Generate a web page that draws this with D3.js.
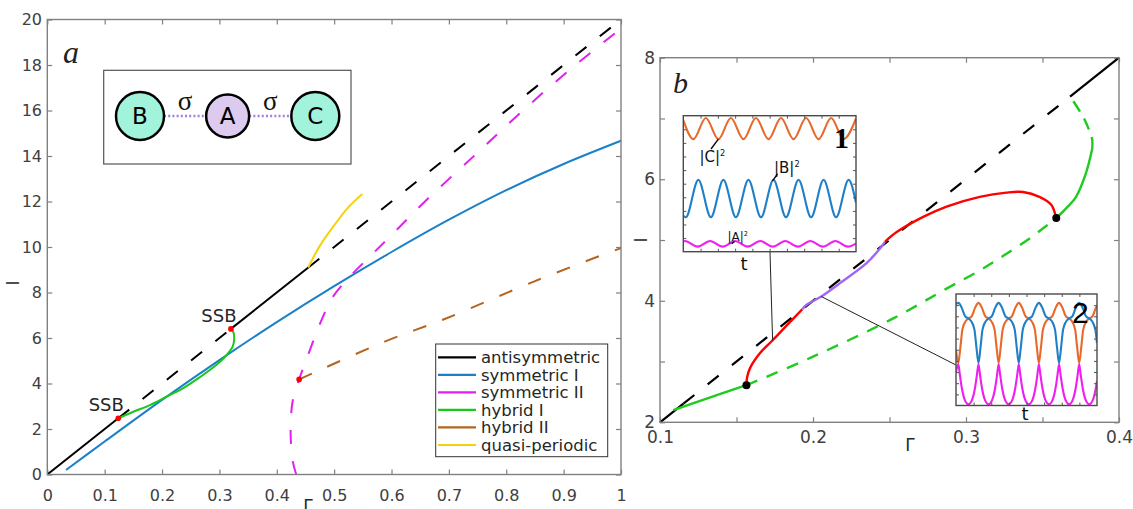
<!DOCTYPE html>
<html lang="en">
<head>
<meta charset="UTF-8">
<title>Bifurcation diagrams</title>
<script src="https://cdn.jsdelivr.net/npm/d3@7"></script>
<style>
  body, html {margin: 0; padding: 0; background: #fff;}
  svg {display: block; font-family: "DejaVu Sans", sans-serif;}
</style>
</head>
<body>
<svg id="fig" width="1133" height="509"></svg>
<script>
// ---------- panel a data (Gamma, I) ----------
const xTicksA = [0, 0.1, 0.2, 0.3, 0.4, 0.5, 0.6, 0.7, 0.8, 0.9, 1];
const xLabelsA = ["0", "0.1", "0.2", "0.3", "0.4", "0.5", "0.6", "0.7", "0.8", "0.9", "1"];
const yTicksA = [0, 2, 4, 6, 8, 10, 12, 14, 16, 18, 20];
const yLabelsA = ["0", "2", "4", "6", "8", "10", "12", "14", "16", "18", "20"];

// antisymmetric: breakpoints, segments alternate solid / dashed
const antiG = [0, 0.1237, 0.32, 0.455, 1];
const antiI = [0, 2.47, 6.4, 9.1, 20];

const symIG = [0.0326, 0.1, 0.2, 0.3, 0.4, 0.5, 0.6, 0.7, 0.8, 0.9, 1];
const symII = [0.2, 1.45, 3.28, 5.03, 6.7, 8.28, 9.78, 11.2, 12.5, 13.65, 14.67];

const symIIG = [0.434, 0.4285, 0.4245, 0.4245, 0.4275, 0.439, 0.4577, 0.478, 0.498, 0.527, 0.565, 0.603, 0.661, 0.748, 0.829, 0.916, 1];
const symIII = [0, 0.5, 1.5, 2.3, 3.2, 4.18, 5.47, 6.79, 7.82, 8.69, 9.65, 10.6, 12.07, 14.1, 16.0, 17.9, 19.6];

const hybIG = [0.1237, 0.150, 0.179, 0.208, 0.237, 0.266, 0.295, 0.3125, 0.323, 0.3258, 0.324, 0.320];
const hybII = [2.47, 2.76, 3.05, 3.42, 3.80, 4.28, 4.82, 5.25, 5.62, 5.99, 6.28, 6.4];

const hybIIG = [0.439, 0.588, 0.696, 0.847, 0.975, 1];
const hybIII = [4.18, 5.84, 6.87, 8.47, 9.72, 9.95];

const quasiG = [0.4548, 0.475, 0.5, 0.525, 0.549];
const quasiI = [9.1, 10.05, 10.95, 11.75, 12.33];

const ssbG = [0.1237, 0.32, 0.439];
const ssbI = [2.47, 6.4, 4.18];

const legendNames = ["antisymmetric", "symmetric I", "symmetric II", "hybrid I", "hybrid II", "quasi-periodic"];
const legendColors = ["#000000", "#1a80c8", "#e020f0", "#19c819", "#b5651d", "#f5d20a"];

const nodes = ["B", "A", "C"];

// ---------- panel b data ----------
const xTicksB = [0.1, 0.15, 0.2, 0.25, 0.3, 0.35, 0.4];
const xLabelsB = ["0.1", "", "0.2", "", "0.3", "", "0.4"];
const yTicksB = [2, 3, 4, 5, 6, 7, 8];
const yLabelsB = ["2", "", "4", "", "6", "", "8"];

const antiBG = [0.1, 0.1153, 0.368, 0.4];
const antiBI = [2, 2.306, 7.36, 8];

const greenSolid1 = [[0.1087, 2.2], [0.1305, 2.39], [0.1565, 2.61]];
const greenDash1 = [[0.1565, 2.61], [0.2, 3.08], [0.2525, 3.71], [0.2873, 4.2], [0.309, 4.5], [0.3244, 4.74], [0.3418, 5.03], [0.359, 5.36]];
const greenSolid2 = [[0.359, 5.36], [0.3654, 5.52], [0.3719, 5.71], [0.3784, 6.10], [0.3825, 6.5]];
const greenDash2 = [[0.3825, 6.5], [0.3825, 6.65], [0.3803, 6.82], [0.3765, 7.03], [0.3689, 7.33]];
const red1 = [[0.1565, 2.61], [0.157, 2.75], [0.159, 2.9], [0.1654, 3.14], [0.1736, 3.35], [0.1827, 3.59], [0.193, 3.86]];
const purple = [[0.193, 3.86], [0.1956, 3.93], [0.2054, 4.07], [0.2176, 4.29], [0.235, 4.62], [0.2438, 4.86], [0.247, 4.97]];
const red2 = [[0.247, 4.97], [0.2547, 5.13], [0.272, 5.38], [0.2873, 5.55], [0.309, 5.71], [0.3264, 5.78], [0.3373, 5.79], [0.348, 5.71], [0.3557, 5.58], [0.3585, 5.41], [0.359, 5.36]];
const dotsB = [[0.1565, 2.61], [0.359, 5.36]];

// inset 1 (t in periods, normalized intensity)
const in1C = [[0,0.968],[0.4,0.828],[0.9,0.983],[1.4,0.828],[1.9,0.983],[2.4,0.828],[2.9,0.983],[3.4,0.828],[3.9,0.983],[4.4,0.828],[4.9,0.983],[5.4,0.828],[5.9,0.983],[6.4,0.828],[6.893,0.98]];
const in1B = [[0,0.265],[0.1,0.253],[0.6,0.528],[1.1,0.253],[1.6,0.528],[2.1,0.253],[2.6,0.528],[3.1,0.253],[3.6,0.528],[4.1,0.253],[4.6,0.528],[5.1,0.253],[5.6,0.528],[6.1,0.253],[6.6,0.528],[6.893,0.36]];
const in1A = [[0,0.075],[0.07,0.079],[0.57,0.037],[1.07,0.079],[1.57,0.037],[2.07,0.079],[2.57,0.037],[3.07,0.079],[3.57,0.037],[4.07,0.079],[4.57,0.037],[5.07,0.079],[5.57,0.037],[6.07,0.079],[6.57,0.037],[6.893,0.06]];

// inset 2
const in2B = [[0,0.91],[0.058,0.92],[0.138,0.88],[0.228,0.80],[0.308,0.78],[0.388,0.75],[0.458,0.68],[0.508,0.52],[0.558,0.38],[0.608,0.52],[0.658,0.68],[0.728,0.75],[0.808,0.78],[0.888,0.80],[0.978,0.88],[1.058,0.92],[1.138,0.88],[1.228,0.80],[1.308,0.78],[1.388,0.75],[1.458,0.68],[1.508,0.52],[1.558,0.38],[1.608,0.52],[1.658,0.68],[1.728,0.75],[1.808,0.78],[1.888,0.80],[1.978,0.88],[2.058,0.92],[2.138,0.88],[2.228,0.80],[2.308,0.78],[2.388,0.75],[2.458,0.68],[2.508,0.52],[2.558,0.38],[2.608,0.52],[2.658,0.68],[2.728,0.75],[2.808,0.78],[2.888,0.80],[2.978,0.88],[3.058,0.92],[3.138,0.88],[3.228,0.80],[3.308,0.78],[3.388,0.75],[3.458,0.68],[3.5,0.56]];
const in2C = [[0,0.50],[0.058,0.38],[0.108,0.52],[0.158,0.68],[0.228,0.75],[0.308,0.78],[0.388,0.80],[0.478,0.88],[0.558,0.92],[0.638,0.88],[0.728,0.80],[0.808,0.78],[0.888,0.75],[0.958,0.68],[1.008,0.52],[1.058,0.38],[1.108,0.52],[1.158,0.68],[1.228,0.75],[1.308,0.78],[1.388,0.80],[1.478,0.88],[1.558,0.92],[1.638,0.88],[1.728,0.80],[1.808,0.78],[1.888,0.75],[1.958,0.68],[2.008,0.52],[2.058,0.38],[2.108,0.52],[2.158,0.68],[2.228,0.75],[2.308,0.78],[2.388,0.80],[2.478,0.88],[2.558,0.92],[2.638,0.88],[2.728,0.80],[2.808,0.78],[2.888,0.75],[2.958,0.68],[3.008,0.52],[3.058,0.38],[3.108,0.52],[3.158,0.68],[3.228,0.75],[3.308,0.78],[3.388,0.80],[3.478,0.88],[3.5,0.89]];
const in2A = [[0,0.30],[0.058,0.37],[0.098,0.27],[0.148,0.15],[0.218,0.05],[0.308,0.01],[0.398,0.05],[0.468,0.15],[0.518,0.27],[0.558,0.37],[0.598,0.27],[0.648,0.15],[0.718,0.05],[0.808,0.01],[0.898,0.05],[0.968,0.15],[1.018,0.27],[1.058,0.37],[1.098,0.27],[1.148,0.15],[1.218,0.05],[1.308,0.01],[1.398,0.05],[1.468,0.15],[1.518,0.27],[1.558,0.37],[1.598,0.27],[1.648,0.15],[1.718,0.05],[1.808,0.01],[1.898,0.05],[1.968,0.15],[2.018,0.27],[2.058,0.37],[2.098,0.27],[2.148,0.15],[2.218,0.05],[2.308,0.01],[2.398,0.05],[2.468,0.15],[2.518,0.27],[2.558,0.37],[2.598,0.27],[2.648,0.15],[2.718,0.05],[2.808,0.01],[2.898,0.05],[2.968,0.15],[3.018,0.27],[3.058,0.37],[3.098,0.27],[3.148,0.15],[3.218,0.05],[3.308,0.01],[3.398,0.05],[3.468,0.15],[3.5,0.22]];

// ---------- helpers ----------
const svg = d3.select("#fig");
const zip = (g, v) => g.map((d, i) => [d, v[i]]);

function drawFrame(g, x, y, o) {
  const [x0, x1] = x.range(), [y0, y1] = y.range();
  const fmt = labels => (d, i) => labels[i];
  g.append("g").attr("transform", `translate(0,${y0})`)
    .call(d3.axisBottom(x).tickValues(o.xt).tickFormat(fmt(o.xl)).tickSizeInner(-5).tickSizeOuter(0).tickPadding(o.padX));
  g.append("g").attr("transform", `translate(0,${y1})`)
    .call(d3.axisTop(x).tickValues(o.xt).tickFormat("").tickSizeInner(-5).tickSizeOuter(0));
  g.append("g").attr("transform", `translate(${x0},0)`)
    .call(d3.axisLeft(y).tickValues(o.yt).tickFormat(fmt(o.yl)).tickSizeInner(-5).tickSizeOuter(0).tickPadding(o.padY));
  g.append("g").attr("transform", `translate(${x1},0)`)
    .call(d3.axisRight(y).tickValues(o.yt).tickFormat("").tickSizeInner(-5).tickSizeOuter(0));
  g.selectAll(".domain").remove();
  g.selectAll(".tick line").attr("stroke", "#808080").attr("stroke-width", 1.2);
  g.selectAll(".tick text").attr("font-size", o.fs).attr("fill", "#404040")
    .attr("font-family", "DejaVu Sans, sans-serif");
}

function box(g, x, y) {
  const [x0, x1] = x.range(), [y0, y1] = y.range();
  g.append("rect").attr("x", x0).attr("y", y1).attr("width", x1 - x0).attr("height", y0 - y1)
    .attr("fill", "none").attr("stroke", "#808080").attr("stroke-width", 1.4);
}

function path(g, line, data, color, w, dash) {
  g.append("path").datum(data).attr("d", line)
    .attr("fill", "none").attr("stroke", color).attr("stroke-width", w)
    .attr("stroke-dasharray", dash || null).attr("stroke-linejoin", "round");
}

// ---------- panel a ----------
const xa = d3.scaleLinear().domain([0, 1]).range([47.3, 621]);
const ya = d3.scaleLinear().domain([0, 20]).range([474.5, 19.5]);
const lineA = d3.line().x(d => xa(d[0])).y(d => ya(d[1])).curve(d3.curveCatmullRom.alpha(0.5));
const ga = svg.append("g");
drawFrame(ga, xa, ya, {xt: xTicksA, xl: xLabelsA, yt: yTicksA, yl: yLabelsA, fs: 16, padX: 15.5, padY: 5.3});

const dashA = "14,17";
for (let i = 0; i < antiG.length - 1; i++) {
  path(ga, lineA, [[antiG[i], antiI[i]], [antiG[i + 1], antiI[i + 1]]], legendColors[0], 2, i % 2 ? dashA : null);
}
path(ga, lineA, zip(symIG, symII), legendColors[1], 2);
path(ga, lineA, zip(symIIG, symIII), legendColors[2], 2, dashA);
path(ga, lineA, zip(hybIG, hybII), legendColors[3], 2);
path(ga, lineA, zip(hybIIG, hybIII), legendColors[4], 2, dashA);
path(ga, lineA, zip(quasiG, quasiI), legendColors[5], 2);

ga.selectAll("circle.ssb").data(zip(ssbG, ssbI)).join("circle").attr("class", "ssb")
  .attr("cx", d => xa(d[0])).attr("cy", d => ya(d[1])).attr("r", 2.8).attr("fill", "#ff0000");

ga.selectAll("text.ssbl").data(zip(ssbG, ssbI).slice(0, 2)).join("text").attr("class", "ssbl")
  .attr("x", d => xa(d[0]) - 12).attr("y", d => ya(d[1]) - 7)
  .attr("text-anchor", "middle").attr("font-size", 18).attr("fill", "#262626").text("SSB");

box(ga, xa, ya);

// schematic inset
ga.append("rect").attr("x", 103.7).attr("y", 70.3).attr("width", 247.3).attr("height", 93.7)
  .attr("fill", "#fff").attr("stroke", "#555").attr("stroke-width", 1.2);
const nx = d3.scalePoint().domain(nodes).range([140, 315.3]);
const nr = {B: 24, A: 21.5, C: 24};
const nfill = {B: "#a2f3dc", A: "#dccbef", C: "#a2f3dc"};
const cyN = 116;
[["B", "A"], ["A", "C"]].forEach(([p, q]) => {
  ga.append("line").attr("x1", nx(p) + nr[p]).attr("x2", nx(q) - nr[q]).attr("y1", cyN).attr("y2", cyN)
    .attr("stroke", "#a27fdc").attr("stroke-width", 2.6).attr("stroke-dasharray", "2,2.2");
  ga.append("text").attr("x", (nx(p) + nr[p] + nx(q) - nr[q]) / 2).attr("y", 110)
    .attr("text-anchor", "middle").attr("font-family", "Liberation Serif, serif").attr("font-size", 27)
    .attr("fill", "#111").text("σ");
});
ga.selectAll("circle.node").data(nodes).join("circle").attr("class", "node")
  .attr("cx", d => nx(d)).attr("cy", cyN).attr("r", d => nr[d])
  .attr("fill", d => nfill[d]).attr("stroke", "#000").attr("stroke-width", 2.5);
ga.selectAll("text.node").data(nodes).join("text").attr("class", "node")
  .attr("x", d => nx(d)).attr("y", cyN).attr("dy", "0.36em").attr("text-anchor", "middle")
  .attr("font-size", 23).attr("fill", "#000").text(d => d);

// legend
const lg = ga.append("g");
lg.append("rect").attr("x", 435.7).attr("y", 344).attr("width", 172).attr("height", 112.7)
  .attr("fill", "#fff").attr("stroke", "#333").attr("stroke-width", 1);
const ly = d3.scalePoint().domain(legendNames).range([357.3, 445]);
lg.selectAll("line").data(legendNames).join("line")
  .attr("x1", 438).attr("x2", 476).attr("y1", d => ly(d)).attr("y2", d => ly(d))
  .attr("stroke", (d, i) => legendColors[i]).attr("stroke-width", 2.2);
lg.selectAll("text").data(legendNames).join("text")
  .attr("x", 481).attr("y", d => ly(d)).attr("dy", "0.35em")
  .attr("font-size", 16.5).attr("fill", "#262626").text(d => d);

// labels
ga.append("text").attr("x", 63).attr("y", 63).attr("font-family", "Liberation Serif, serif")
  .attr("font-style", "italic").attr("font-size", 32).attr("fill", "#222").text("a");
ga.append("text").attr("transform", "translate(19,283) rotate(-90)").attr("text-anchor", "middle")
  .attr("font-size", 17).attr("fill", "#262626").text("I");
ga.append("text").attr("x", 308).attr("y", 512).attr("text-anchor", "middle")
  .attr("font-size", 17).attr("fill", "#262626").text("Γ");

// ---------- panel b ----------
const xb = d3.scaleLinear().domain([0.1, 0.4]).range([660, 1119]);
const yb = d3.scaleLinear().domain([2, 8]).range([422.3, 57.7]);
const lineB = d3.line().x(d => xb(d[0])).y(d => yb(d[1])).curve(d3.curveCatmullRom.alpha(0.5));
const gb = svg.append("g");
drawFrame(gb, xb, yb, {xt: xTicksB, xl: xLabelsB, yt: yTicksB, yl: yLabelsB, fs: 17, padX: 9, padY: 5});

for (let i = 0; i < antiBG.length - 1; i++) {
  path(gb, lineB, [[antiBG[i], antiBI[i]], [antiBG[i + 1], antiBI[i + 1]]], "#000", 2.2, i % 2 ? "14,17" : null);
}
const greenB = "#1ecb1e";
path(gb, lineB, greenSolid1, greenB, 2.4);
path(gb, lineB, greenDash1, greenB, 2.4, "12,10");
path(gb, lineB, greenSolid2, greenB, 2.4);
path(gb, lineB, greenDash2, greenB, 2.4, "12,8");
path(gb, lineB, red1, "#ff0000", 2.4);
path(gb, lineB, purple, "#a066f5", 2.4);
path(gb, lineB, red2, "#ff0000", 2.4);
gb.selectAll("circle.dot").data(dotsB).join("circle").attr("class", "dot")
  .attr("cx", d => xb(d[0])).attr("cy", d => yb(d[1])).attr("r", 4).attr("fill", "#000");

// connector lines to insets
gb.append("line").attr("x1", 770).attr("y1", 252).attr("x2", xb(red1[4][0])).attr("y2", yb(red1[4][1]))
  .attr("stroke", "#222").attr("stroke-width", 1);
gb.append("line").attr("x1", 956).attr("y1", 365).attr("x2", xb(purple[2][0])).attr("y2", yb(purple[2][1]))
  .attr("stroke", "#222").attr("stroke-width", 1);

box(gb, xb, yb);

const cOr = "#e8692a", cBl = "#1f80c8", cMg = "#f01ef0";

function inset(id, x, y, series, xtN) {
  const [x0, x1] = x.range(), [y0, y1] = y.range();
  const g = gb.append("g");
  g.append("clipPath").attr("id", id).append("rect")
    .attr("x", x0).attr("y", y1).attr("width", x1 - x0).attr("height", y0 - y1);
  g.append("rect").attr("x", x0).attr("y", y1).attr("width", x1 - x0).attr("height", y0 - y1).attr("fill", "#fff");
  const ln = d3.line().x(d => x(d[0])).y(d => y(d[1])).curve(d3.curveMonotoneX);
  const gc = g.append("g").attr("clip-path", `url(#${id})`);
  series.forEach(s => path(gc, ln, s[0], s[1], 2.1));
  const yt = d3.range(0.1, 0.95, 0.1);
  const xt = d3.range(1, xtN).map(k => x.domain()[1] * k / xtN);
  const ax = g.append("g");
  ax.append("g").attr("transform", `translate(${x0},0)`).call(d3.axisLeft(y).tickValues(yt).tickFormat("").tickSizeInner(-3).tickSizeOuter(0));
  ax.append("g").attr("transform", `translate(${x1},0)`).call(d3.axisRight(y).tickValues(yt).tickFormat("").tickSizeInner(-3).tickSizeOuter(0));
  ax.append("g").attr("transform", `translate(0,${y0})`).call(d3.axisBottom(x).tickValues(xt).tickFormat("").tickSizeInner(-3).tickSizeOuter(0));
  ax.append("g").attr("transform", `translate(0,${y1})`).call(d3.axisTop(x).tickValues(xt).tickFormat("").tickSizeInner(-3).tickSizeOuter(0));
  ax.selectAll(".domain").remove();
  ax.selectAll(".tick line").attr("stroke", "#555");
  g.append("rect").attr("x", x0).attr("y", y1).attr("width", x1 - x0).attr("height", y0 - y1)
    .attr("fill", "none").attr("stroke", "#4a4a4a").attr("stroke-width", 1.4);
  return g;
}

// inset 1
const x1s = d3.scaleLinear().domain([0, 6.893]).range([683.3, 856]);
const y1s = d3.scaleLinear().domain([0, 1]).range([251.7, 115.7]);
const g1 = inset("clip1", x1s, y1s, [[in1C, cOr], [in1B, cBl], [in1A, cMg]], 10);

function pointer(g, from, to) {
  g.append("line").attr("x1", from[0]).attr("y1", from[1]).attr("x2", to[0]).attr("y2", to[1])
    .attr("stroke", "#000").attr("stroke-width", 1.3);
}
function sqLabel(g, x, y, name, fs) {
  const t = g.append("text").attr("x", x).attr("y", y).attr("font-size", fs).attr("fill", "#111");
  t.append("tspan").text(`|${name}|`);
  t.append("tspan").attr("font-size", fs * 0.55).attr("dy", -fs * 0.4).text("2");
}
sqLabel(g1, 699.5, 161.5, "C", 15);
pointer(g1, [711, 149], [x1s(in1C[3][0]), y1s(in1C[3][1])]);
sqLabel(g1, 774, 173, "B", 15);
pointer(g1, [777.5, 174], [x1s(3.56), y1s(0.52)]);
sqLabel(g1, 727.5, 241, "A", 12);
pointer(g1, [734.5, 241.5], [x1s(1.93), y1s(0.058)]);
g1.append("text").attr("x", 834).attr("y", 148).attr("font-family", "Liberation Serif, serif")
  .attr("font-weight", "bold").attr("font-size", 30).attr("fill", "#000").text("1");
gb.append("text").attr("x", 744).attr("y", 270).attr("text-anchor", "middle")
  .attr("font-size", 18).attr("fill", "#111").text("t");

// inset 2
const x2s = d3.scaleLinear().domain([0, 3.5]).range([956, 1097]);
const y2s = d3.scaleLinear().domain([0, 1]).range([405.5, 294]);
const g2 = inset("clip2", x2s, y2s, [[in2C, cOr], [in2B, cBl], [in2A, cMg]], 8);
g2.append("text").attr("x", 1072).attr("y", 323).attr("font-family", "Liberation Sans, sans-serif")
  .attr("font-size", 30).attr("fill", "#000").text("2");
gb.append("text").attr("x", 1025).attr("y", 420).attr("text-anchor", "middle")
  .attr("font-size", 18).attr("fill", "#111").text("t");

// panel b labels
gb.append("text").attr("x", 673).attr("y", 93).attr("font-family", "Liberation Serif, serif")
  .attr("font-style", "italic").attr("font-size", 30).attr("fill", "#222").text("b");
gb.append("text").attr("transform", "translate(647,240) rotate(-90)").attr("text-anchor", "middle")
  .attr("font-size", 17).attr("fill", "#262626").text("I");
gb.append("text").attr("x", 910).attr("y", 451).attr("text-anchor", "middle")
  .attr("font-size", 17).attr("fill", "#262626").text("Γ");
</script>
</body>
</html>
